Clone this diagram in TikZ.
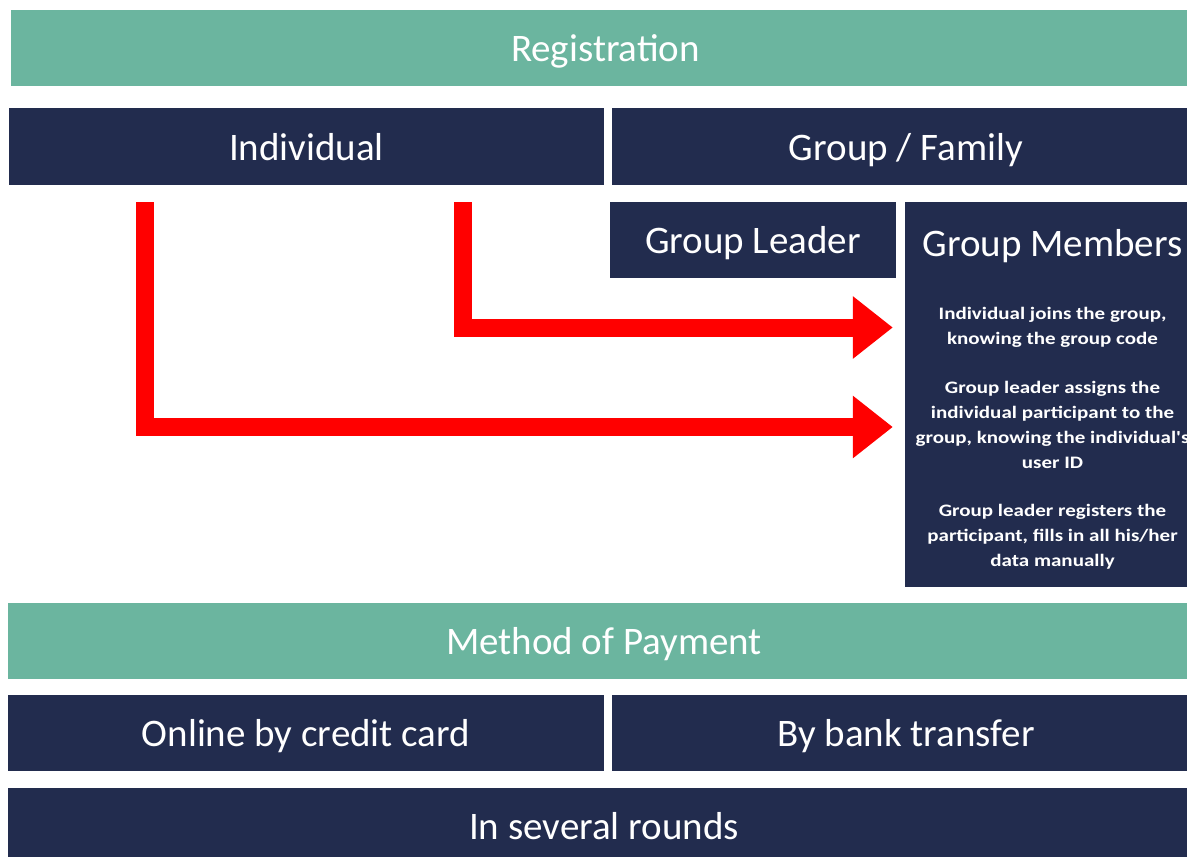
\documentclass[tikz,border=0pt]{standalone}
\usepackage{fontspec}
\setmainfont{Carlito}
\newfontfamily\gmfont[FakeStretch=1.2]{Carlito}
\usetikzlibrary{arrows.meta}
\definecolor{hdrteal}{HTML}{6BB59F}
\definecolor{boxnavy}{HTML}{222C4E}
\definecolor{arrowred}{HTML}{FF0000}
\begin{document}
\begin{tikzpicture}[x=1pt,y=-1pt,
  bigtext/.style={text=white, font=\fontsize{39}{46}\selectfont},
  navybox/.style={rectangle, inner sep=0pt, fill=boxnavy, bigtext, text height=27pt, text depth=0pt},
  tealbar/.style={rectangle, inner sep=0pt, fill=hdrteal, bigtext, text height=27pt, text depth=0pt},
  smalltext/.style={text=white, align=center, inner sep=0pt, font=\gmfont\bfseries\fontsize{17.5}{25}\selectfont},
  redarrow/.style={draw=arrowred, line width=18pt, line join=miter, line cap=butt, -{Triangle[length=40pt,width=60pt]}}
]
\useasboundingbox (0,0) rectangle (1187,857);
\fill[white] (0,0) rectangle (1187,857);

\node[tealbar, minimum width=1189pt, minimum height=76pt] (reg) at (605.5,48) {Registration};
\node[navybox, minimum width=595pt, minimum height=77pt] (ind) at (306.5,146.5) {Individual};
\node[navybox, minimum width=588pt, minimum height=77pt] (grp) at (906,146.5) {Group / Family};
\node[navybox, minimum width=286pt, minimum height=76pt] (gl) at (753,240) {Group Leader};
\node[navybox, minimum width=295pt, minimum height=385pt] (gm) at (1052.5,394.5) {};
\node[bigtext, anchor=base] (gmt) at (1052.5,256) {Group Members};
\node[smalltext] (p1) at (1052.5,327.5) {Individual joins the group,\\knowing the group code};
\node[smalltext] (p2) at (1052.5,424.5) {Group leader assigns the\\individual participant to the\\group, knowing the individual's\\user ID};
\node[smalltext] (p3) at (1052.5,536.5) {Group leader registers the\\participant, fills in all his/her\\data manually};

\node[tealbar, minimum width=1192pt, minimum height=76pt] (mop) at (604,641) {Method of Payment};
\node[navybox, minimum width=596pt, minimum height=76pt] (cc) at (306,733) {Online by credit card};
\node[navybox, minimum width=588pt, minimum height=76pt] (bt) at (906,733) {By bank transfer};
\node[navybox, minimum width=1192pt, minimum height=76pt] (rounds) at (604,826) {In several rounds};

\coordinate (s1) at (463,202);
\coordinate (s2) at (144.5,202);
\draw[redarrow, shorten >=12pt] (s1) |- (gm.west |- 0,327.5);
\draw[redarrow, shorten >=12pt] (s2) |- (gm.west |- 0,427);
\end{tikzpicture}
\end{document}
